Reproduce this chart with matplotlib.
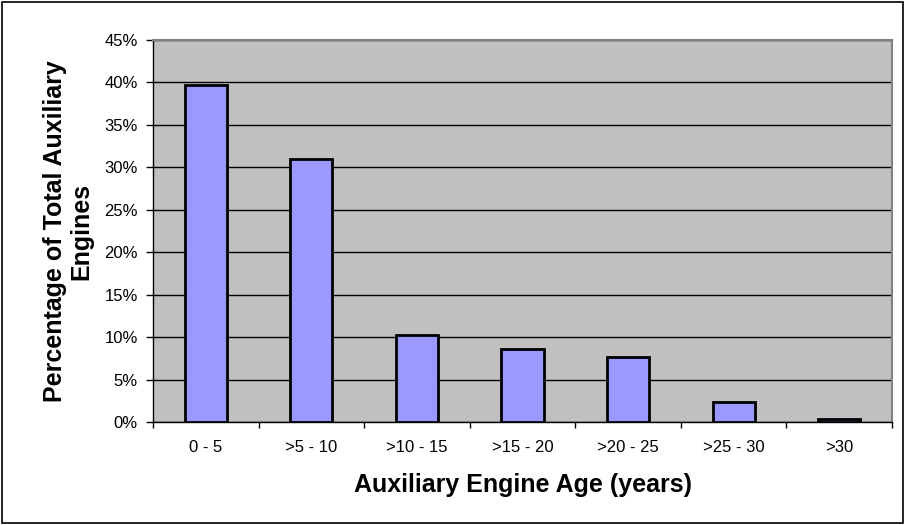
import matplotlib
matplotlib.use("Agg")
import matplotlib.pyplot as plt
from matplotlib.patches import Rectangle
from matplotlib.ticker import FuncFormatter, FixedLocator, MultipleLocator
import numpy as np

# age bins and share of auxiliary engines (%)
categories = ["0 - 5", ">5 - 10", ">10 - 15", ">15 - 20", ">20 - 25", ">25 - 30", ">30"]
share = [39.7, 31.0, 10.2, 8.6, 7.7, 2.4, 0.3]

plt.rcParams["font.family"] = ["Liberation Sans", "DejaVu Sans"]

fig = plt.figure(figsize=(9.05, 5.25), dpi=100)
# outer chart border
fig.patches.append(Rectangle((0.002, 0.003), 0.996, 0.994, transform=fig.transFigure,
                             fill=False, ec="black", lw=1.2))

W, H = 905, 525
left, right, top, bottom = 153, 892, 40, 422
ax = fig.add_axes([left / W, 1 - bottom / H, (right - left) / W, (bottom - top) / H])
ax.set_facecolor("#C0C0C0")

x = np.arange(len(categories))
ax.bar(x, share, width=0.4, color="#9999FF", edgecolor="black", linewidth=2, zorder=3)

ax.set_xlim(-0.5, len(categories) - 0.5)
ax.set_ylim(0, 45)
ax.yaxis.set_major_locator(MultipleLocator(5))
ax.yaxis.set_major_formatter(FuncFormatter(lambda v, _: f"{v:.0f}%"))
ax.grid(axis="y", color="black", lw=1, zorder=1)

ax.set_xticks(x)
ax.set_xticklabels(categories, fontsize=12)
ax.xaxis.set_minor_locator(FixedLocator(np.arange(-0.5, len(categories), 1)))
ax.tick_params(axis="x", which="major", length=0, pad=13)
ax.tick_params(axis="x", which="minor", length=4.5, width=1, direction="out")
ax.tick_params(axis="y", length=5, width=1, direction="out", labelsize=12, pad=6)

for s in ("top", "right"):
    ax.spines[s].set_color("#808080")
    ax.spines[s].set_linewidth(1.5)
for s in ("left", "bottom"):
    ax.spines[s].set_color("black")
    ax.spines[s].set_linewidth(1)

ax.set_xlabel("Auxiliary Engine Age (years)", fontsize=18, fontweight="bold", labelpad=13)
ax.set_ylabel("Percentage of Total Auxiliary\nEngines", fontsize=18, fontweight="bold",
              labelpad=8, linespacing=1.1)

fig.savefig("out.png", dpi=100)
